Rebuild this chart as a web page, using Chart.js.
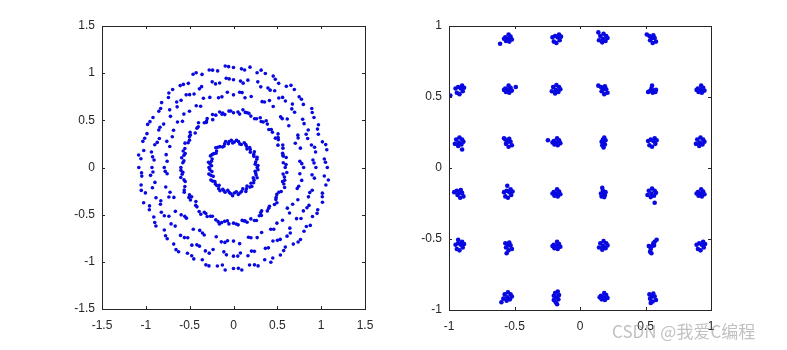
<!DOCTYPE html>
<html>
<head>
<meta charset="utf-8">
<script src="https://cdn.jsdelivr.net/npm/chart.js@4.4.1/dist/chart.umd.min.js"></script>
<style>
  body { margin: 0; background: #fff; }
  #wrap { position: relative; width: 787px; height: 350px; }
  #c1 { position: absolute; left: 0; top: 0; }
  #c2 { position: absolute; left: 393px; top: 0; }
  #wm { position: absolute; left: 612px; top: 318px; font: 17px "Noto Sans CJK SC", sans-serif; color: rgba(140,140,140,0.55); white-space: nowrap; }
</style>
</head>
<body>
<div id="wrap">
  <canvas id="c1" width="393" height="350"></canvas>
  <canvas id="c2" width="394" height="350"></canvas>
  <div id="wm">CSDN @我爱C编程</div>
</div>
<script>
// left plot: ring constellation
const ring1 = [[0.27,0],[0.248,0.035],[0.266,0.087],[0.232,0.118],[0.238,0.166],[0.191,0.191],[0.154,0.197],[0.14,0.242],
  [0.089,0.244],[0.058,0.274],[0.009,0.27],[-0.025,0.289],[-0.059,0.253],[-0.101,0.25],[-0.125,0.217],[-0.18,0.214],
  [-0.193,0.174],[-0.226,0.147],[-0.263,0.123],[-0.251,0.067],[-0.267,0.038],[-0.28,0],[-0.246,-0.043],[-0.257,-0.083],
  [-0.258,-0.132],[-0.213,-0.149],[-0.191,-0.191],[-0.169,-0.224],[-0.122,-0.23],[-0.096,-0.263],[-0.047,-0.266],[-0.01,-0.3],
  [0.032,-0.258],[0.073,-0.27],[0.106,-0.227],[0.147,-0.227],[0.187,-0.208],[0.199,-0.167],[0.234,-0.135],[0.269,-0.109],
  [0.253,-0.059],[0.279,-0.024],
  [0.279,0.02],[0.253,0.059],[0.269,0.109],[0.231,0.139],[0.192,0.161],[0.184,0.211],[0.147,0.227],[0.123,0.263],
  [0.072,0.25],[0.035,0.288],[-0.009,0.26],[-0.049,0.276],[-0.09,0.276],[-0.11,0.225],[-0.155,0.221],[-0.202,0.209],
  [-0.2,0.151],[-0.245,0.136],[-0.244,0.089],[-0.285,0.055],[-0.25,0.018],[-0.269,-0.023],[-0.281,-0.07],[-0.232,-0.094],
  [-0.24,-0.144],[-0.207,-0.174],[-0.164,-0.189],[-0.154,-0.246],[-0.11,-0.247],[-0.065,-0.242],[-0.029,-0.279],[0.009,-0.27],
  [0.055,-0.285],[0.092,-0.254],[0.141,-0.254],[0.154,-0.197],[0.209,-0.202],[0.229,-0.161],[0.225,-0.11],[0.258,-0.079],[0.247,-0.039]];

const ring2 = [[0.59,0],[0.568,0.05],[0.601,0.106],[0.56,0.15],[0.564,0.205],[0.507,0.237],[0.511,0.295],[0.508,0.356],
  [0.444,0.373],[0.403,0.403],[0.386,0.46],[0.339,0.483],[0.305,0.528],[0.241,0.516],[0.198,0.545],[0.155,0.58],[0.108,0.611],[0.051,0.588],
  [0,0.58],[-0.052,0.598],[-0.099,0.561],[-0.158,0.589],[-0.202,0.555],[-0.237,0.507],[-0.3,0.52],[-0.333,0.475],[-0.399,0.475],
  [-0.417,0.417],[-0.437,0.366],[-0.491,0.344],[-0.502,0.29],[-0.553,0.258],[-0.555,0.202],[-0.551,0.148],[-0.591,0.104],[-0.578,0.05],
  [-0.6,0],[-0.578,-0.05],[-0.601,-0.106],[-0.551,-0.148],[-0.555,-0.202],[-0.562,-0.262],[-0.502,-0.29],[-0.491,-0.344],[-0.429,-0.36],
  [-0.417,-0.417],[-0.392,-0.467],[-0.333,-0.475],[-0.3,-0.52],[-0.241,-0.516],[-0.202,-0.555],[-0.161,-0.599],[-0.101,-0.571],[-0.052,-0.598],
  [0,-0.59],[0.053,-0.608],[0.099,-0.561],[0.155,-0.58],[0.198,-0.545],[0.262,-0.562],[0.295,-0.511],[0.321,-0.459],[0.386,-0.46],
  [0.41,-0.41],[0.467,-0.392],[0.483,-0.338],[0.494,-0.285],[0.544,-0.254],[0.583,-0.212],[0.56,-0.15],[0.581,-0.102],[0.608,-0.053],
  [0.567,0.121],[0.509,0.318],[0.316,0.487],[0.135,0.584],[-0.123,0.577],[-0.307,0.492],[-0.503,0.327],[-0.565,0.131],
  [-0.586,-0.072],[-0.509,-0.318],[-0.316,-0.487],[-0.135,-0.584],[0.121,-0.567],[0.318,-0.509],[0.487,-0.316],[0.584,-0.135],
  [0.599,0.031],[0.565,0.131],[0.562,0.239],[0.478,0.311],[0.431,0.402],[0.373,0.495],[0.263,0.517],[0.175,0.574],[0.07,0.566],
  [-0.031,0.599],[-0.131,0.565],[-0.239,0.562],[-0.311,0.478],[-0.402,0.431],[-0.495,0.373],[-0.517,0.263],[-0.574,0.175],[-0.566,0.07],
  [-0.599,-0.031],[-0.565,-0.131],[-0.562,-0.239],[-0.478,-0.311],[-0.431,-0.402],[-0.373,-0.495],[-0.263,-0.517],[-0.175,-0.574],[-0.07,-0.566],
  [0.031,-0.599],[0.131,-0.565],[0.239,-0.562],[0.311,-0.478],[0.402,-0.431],[0.495,-0.373],[0.517,-0.263],[0.574,-0.175],[0.566,-0.07]];

const ring3 = [[0.8,0],[0.757,0.066],[0.763,0.205],[0.705,0.257],[0.734,0.343],[0.631,0.442],[0.613,0.514],[0.537,0.537],
  [0.453,0.647],[0.41,0.71],[0.326,0.698],[0.202,0.753],[0.131,0.739],[0.07,0.797],
  [0,0.77],[-0.07,0.797],[-0.132,0.749],[-0.27,0.743],[-0.343,0.734],[-0.375,0.65],[-0.502,0.597],[-0.566,0.566],
  [-0.582,0.489],[-0.684,0.395],[-0.698,0.326],[-0.761,0.277],[-0.768,0.136],[-0.757,0.066],
  [-0.79,0],[-0.757,-0.066],[-0.773,-0.207],[-0.724,-0.263],[-0.68,-0.317],[-0.663,-0.465],[-0.597,-0.502],[-0.537,-0.537],
  [-0.459,-0.655],[-0.385,-0.667],[-0.334,-0.716],[-0.197,-0.734],[-0.139,-0.788],[-0.068,-0.777],
  [0,-0.78],[0.07,-0.807],[0.199,-0.744],[0.27,-0.743],[0.321,-0.689],[0.459,-0.655],[0.495,-0.59],[0.559,-0.559],
  [0.614,-0.431],[0.675,-0.39],[0.734,-0.342],[0.744,-0.199],[0.778,-0.137],[0.757,-0.066],
  [0.779,0.041],[0.737,0.313],[0.556,0.518],[0.354,0.695],[0.098,0.794],[-0.171,0.74],[-0.425,0.654],[-0.639,0.482],[-0.727,0.222],
  [-0.779,-0.041],[-0.737,-0.313],[-0.556,-0.518],[-0.354,-0.695],[-0.098,-0.794],[0.171,-0.74],[0.425,-0.654],[0.639,-0.482],[0.727,-0.222]];

const ring4 = [[0.94,0],[0.906,0.079],[0.936,0.165],[0.889,0.238],[0.846,0.308],[0.852,0.398],[0.805,0.465],[0.697,0.585],
  [0.672,0.672],[0.592,0.705],[0.517,0.737],[0.47,0.814],[0.393,0.843],[0.311,0.855],[0.164,0.926],[0.08,0.916],
  [0,0.93],[-0.083,0.946],[-0.158,0.896],[-0.243,0.908],[-0.389,0.834],[-0.45,0.779],[-0.54,0.77],[-0.598,0.712],
  [-0.643,0.643],[-0.728,0.611],[-0.797,0.46],[-0.852,0.397],[-0.846,0.308],[-0.898,0.241],[-0.936,0.165],[-0.906,0.079],
  [-0.93,0],[-0.946,-0.083],[-0.896,-0.158],[-0.884,-0.321],[-0.834,-0.389],[-0.823,-0.475],[-0.737,-0.517],[-0.712,-0.598],
  [-0.604,-0.72],[-0.522,-0.745],[-0.475,-0.823],[-0.389,-0.834],[-0.321,-0.884],[-0.233,-0.869],[-0.081,-0.926],
  [0,-0.94],[0.079,-0.906],[0.165,-0.936],[0.238,-0.889],[0.398,-0.852],[0.45,-0.779],[0.533,-0.762],[0.611,-0.728],
  [0.643,-0.643],[0.77,-0.54],[0.797,-0.46],[0.861,-0.402],[0.855,-0.311],[0.898,-0.241],[0.896,-0.078],
  [0.919,0.048],[0.925,0.214],[0.829,0.352],[0.789,0.512],[0.665,0.621],[0.56,0.743],[0.418,0.82],[0.277,0.908],[0.11,0.894],
  [-0.049,0.939],[-0.205,0.886],[-0.364,0.857],[-0.501,0.772],[-0.648,0.694],[-0.719,0.542],[-0.838,0.427],[-0.87,0.266],[-0.923,0.113],
  [-0.919,-0.048],[-0.925,-0.214],[-0.829,-0.352],[-0.789,-0.512],[-0.665,-0.621],[-0.56,-0.743],[-0.418,-0.82],[-0.277,-0.908],[-0.11,-0.894],
  [0.049,-0.939],[0.205,-0.886],[0.364,-0.857],[0.501,-0.772],[0.648,-0.694],[0.719,-0.542],[0.838,-0.427],[0.87,-0.266],[0.923,-0.113]];

const ring5 = [[1.07,0],[1.036,0.09],[1.064,0.188],[1.014,0.272],[0.968,0.352],[0.969,0.453],[0.918,0.53],[0.893,0.626],
  [0.797,0.669],[0.749,0.749],[0.694,0.827],[0.603,0.86],[0.515,0.892],[0.453,0.969],[0.363,0.996],[0.269,1.005],[0.188,1.064],[0.091,1.046],
  [0,1.06],[-0.094,1.076],[-0.181,1.024],[-0.277,1.034],[-0.359,0.987],[-0.461,0.988],[-0.515,0.892],[-0.608,0.868],[-0.694,0.827],
  [-0.742,0.742],[-0.82,0.688],[-0.852,0.597],[-0.918,0.53],[-0.979,0.457],[-0.987,0.359],[-1.034,0.277],[-1.024,0.181],[-1.056,0.092],
  [-1.08,0],[-1.046,-0.091],[-1.054,-0.186],[-1.005,-0.269],[-1.025,-0.373],[-0.96,-0.448],[-0.909,-0.525],[-0.885,-0.62],[-0.789,-0.662],
  [-0.756,-0.756],[-0.682,-0.812],[-0.626,-0.893],[-0.525,-0.909],[-0.453,-0.969],[-0.356,-0.978],[-0.28,-1.043],[-0.184,-1.044],[-0.095,-1.086],
  [0,-1.07],[0.095,-1.086],[0.183,-1.034],[0.28,-1.043],[0.356,-0.978],[0.448,-0.96],[0.535,-0.927],[0.591,-0.844],[0.682,-0.812],
  [0.764,-0.764],[0.804,-0.675],[0.876,-0.614],[0.901,-0.52],[0.961,-0.448],[1.015,-0.369],[1.014,-0.272],[1.054,-0.186],[1.036,-0.09],
  [1.049,0.055],[1.052,0.243],[0.958,0.407],[0.898,0.583],[0.775,0.723],[0.656,0.871],[0.477,0.936],[0.315,1.032],[0.127,1.033],
  [-0.056,1.069],[-0.239,1.032],[-0.426,1.004],[-0.572,0.881],[-0.737,0.789],[-0.831,0.626],[-0.953,0.486],[-1.013,0.31],[-1.082,0.133],
  [-1.049,-0.055],[-1.052,-0.243],[-0.958,-0.407],[-0.898,-0.583],[-0.775,-0.723],[-0.656,-0.871],[-0.477,-0.936],[-0.315,-1.032],[-0.127,-1.033],
  [0.056,-1.069],[0.239,-1.032],[0.426,-1.004],[0.572,-0.881],[0.737,-0.789],[0.831,-0.626],[0.953,-0.486],[1.013,-0.31],[1.082,-0.133]];

// right plot: 32-point grid constellation, one array per row
const rowTop = [[-0.55,0.91],[-0.53,0.925],[-0.57,0.92],[-0.54,0.89],[-0.565,0.895],[-0.52,0.905],[-0.58,0.91],[-0.545,0.94],[-0.61,0.875],
  [-0.17,0.92],[-0.19,0.93],[-0.155,0.9],[-0.2,0.89],[-0.18,0.88],[-0.16,0.94],[-0.21,0.92],[-0.145,0.925],
  [0.175,0.91],[0.195,0.895],[0.155,0.93],[0.2,0.93],[0.17,0.885],[0.21,0.915],[0.18,0.945],[0.145,0.9],[0.14,0.955],
  [0.55,0.915],[0.535,0.9],[0.57,0.915],[0.56,0.935],[0.53,0.93],[0.555,0.88],[0.58,0.89],[0.51,0.94]];
const rowHigh = [[-0.91,0.56],[-0.93,0.57],[-0.895,0.54],[-0.94,0.53],[-0.92,0.52],[-0.9,0.58],[-0.95,0.56],[-0.885,0.565],[-0.99,0.51],
  [-0.55,0.55],[-0.53,0.565],[-0.57,0.56],[-0.54,0.53],[-0.565,0.535],[-0.52,0.545],[-0.58,0.55],[-0.545,0.58],[-0.49,0.57],
  [-0.185,0.55],[-0.165,0.535],[-0.205,0.57],[-0.16,0.57],[-0.19,0.525],[-0.15,0.555],[-0.18,0.585],[-0.215,0.54],
  [0.18,0.555],[0.165,0.54],[0.2,0.555],[0.19,0.575],[0.16,0.57],[0.185,0.52],[0.21,0.53],[0.14,0.58],
  [0.55,0.58],[0.545,0.56],[0.53,0.54],[0.56,0.545],[0.575,0.535],[0.52,0.535],[0.555,0.53],[0.58,0.55],
  [0.92,0.55],[0.94,0.565],[0.9,0.56],[0.93,0.53],[0.905,0.535],[0.95,0.545],[0.89,0.55],[0.925,0.58]];
const rowMidHigh = [[-0.925,0.18],[-0.905,0.165],[-0.945,0.2],[-0.9,0.2],[-0.93,0.155],[-0.89,0.185],[-0.92,0.215],[-0.955,0.17],[-0.9,0.13],
  [-0.55,0.185],[-0.565,0.17],[-0.53,0.185],[-0.54,0.205],[-0.57,0.2],[-0.545,0.15],[-0.52,0.16],[-0.58,0.21],
  [-0.18,0.18],[-0.16,0.195],[-0.2,0.19],[-0.17,0.16],[-0.195,0.165],[-0.15,0.175],[-0.21,0.18],[-0.175,0.21],[-0.245,0.195],
  [0.18,0.18],[0.175,0.2],[0.185,0.215],[0.17,0.16],[0.19,0.165],[0.165,0.185],[0.18,0.145],[0.195,0.195],
  [0.56,0.19],[0.54,0.2],[0.575,0.17],[0.53,0.16],[0.55,0.15],[0.57,0.21],[0.52,0.19],[0.585,0.195],
  [0.915,0.18],[0.935,0.165],[0.895,0.2],[0.94,0.2],[0.91,0.155],[0.95,0.185],[0.92,0.215],[0.885,0.17]];
const rowMidLow = [[-0.92,-0.175],[-0.935,-0.19],[-0.9,-0.175],[-0.91,-0.155],[-0.94,-0.16],[-0.915,-0.21],[-0.89,-0.2],[-0.96,-0.17],
  [-0.54,-0.17],[-0.56,-0.16],[-0.525,-0.19],[-0.57,-0.2],[-0.55,-0.21],[-0.53,-0.15],[-0.58,-0.17],[-0.515,-0.165],[-0.555,-0.125],
  [-0.18,-0.18],[-0.16,-0.165],[-0.2,-0.17],[-0.17,-0.2],[-0.195,-0.195],[-0.15,-0.185],[-0.21,-0.18],[-0.175,-0.15],
  [0.18,-0.18],[0.175,-0.16],[0.17,-0.14],[0.19,-0.19],[0.165,-0.2],[0.195,-0.17],[0.185,-0.205],[0.16,-0.18],
  [0.545,-0.18],[0.565,-0.195],[0.525,-0.16],[0.57,-0.16],[0.54,-0.205],[0.58,-0.175],[0.55,-0.145],[0.515,-0.19],[0.57,-0.245],
  [0.92,-0.18],[0.94,-0.165],[0.9,-0.17],[0.93,-0.2],[0.905,-0.195],[0.95,-0.185],[0.89,-0.18],[0.925,-0.15]];
const rowLow = [[-0.91,-0.54],[-0.93,-0.53],[-0.895,-0.56],[-0.94,-0.57],[-0.92,-0.58],[-0.9,-0.52],[-0.95,-0.54],[-0.885,-0.535],[-0.93,-0.505],
  [-0.55,-0.545],[-0.565,-0.56],[-0.53,-0.545],[-0.54,-0.525],[-0.57,-0.53],[-0.545,-0.58],[-0.52,-0.57],[-0.56,-0.6],
  [-0.18,-0.55],[-0.16,-0.535],[-0.2,-0.54],[-0.17,-0.57],[-0.195,-0.565],[-0.15,-0.555],[-0.21,-0.55],[-0.175,-0.52],
  [0.175,-0.55],[0.195,-0.565],[0.155,-0.53],[0.2,-0.53],[0.17,-0.575],[0.21,-0.545],[0.18,-0.515],[0.145,-0.56],
  [0.55,-0.55],[0.56,-0.53],[0.54,-0.57],[0.535,-0.59],[0.57,-0.52],[0.525,-0.55],[0.545,-0.6],[0.565,-0.545],[0.585,-0.505],
  [0.93,-0.54],[0.91,-0.53],[0.945,-0.56],[0.9,-0.57],[0.92,-0.58],[0.94,-0.52],[0.89,-0.54],[0.955,-0.535]];
const rowBottom = [[-0.555,-0.91],[-0.535,-0.925],[-0.575,-0.89],[-0.53,-0.89],[-0.56,-0.935],[-0.52,-0.905],[-0.55,-0.875],[-0.585,-0.92],[-0.6,-0.945],
  [-0.18,-0.91],[-0.19,-0.88],[-0.17,-0.87],[-0.2,-0.9],[-0.165,-0.925],[-0.185,-0.945],[-0.175,-0.96],[-0.16,-0.895],[-0.2,-0.93],
  [0.18,-0.91],[0.2,-0.895],[0.16,-0.9],[0.19,-0.93],[0.165,-0.925],[0.21,-0.915],[0.15,-0.91],[0.185,-0.88],
  [0.55,-0.905],[0.535,-0.92],[0.57,-0.905],[0.56,-0.885],[0.53,-0.89],[0.555,-0.94],[0.58,-0.93],[0.54,-0.95]];

// tick labels
const leftTicks = [-1.5, -1, -0.5, 0, 0.5, 1, 1.5];
const rightTicks = [-1, -0.5, 0, 0.5, 1];

const DOT = '#0808e0';
const AXIS = '#262626';

function toXY(arr) {
    return arr.map(p => ({ x: p[0], y: p[1] }));
}

// MATLAB style box with inward ticks on all four sides
const boxPlugin = {
    id: 'box',
    afterDraw(chart) {
        const { ctx, chartArea: a, scales } = chart;
        const len = 3;
        ctx.save();
        ctx.strokeStyle = AXIS;
        ctx.lineWidth = 1;
        ctx.strokeRect(Math.round(a.left) + 0.5, Math.round(a.top) + 0.5,
            Math.round(a.right - a.left), Math.round(a.bottom - a.top));
        ctx.beginPath();
        scales.x.ticks.forEach((t, i) => {
            const px = Math.round(scales.x.getPixelForTick(i)) + 0.5;
            ctx.moveTo(px, a.bottom); ctx.lineTo(px, a.bottom - len);
            ctx.moveTo(px, a.top); ctx.lineTo(px, a.top + len);
        });
        scales.y.ticks.forEach((t, i) => {
            const py = Math.round(scales.y.getPixelForTick(i)) + 0.5;
            ctx.moveTo(a.left, py); ctx.lineTo(a.left + len, py);
            ctx.moveTo(a.right, py); ctx.lineTo(a.right - len, py);
        });
        ctx.stroke();
        ctx.restore();
    }
};

function makeScale(min, max, tickList, isX) {
    return {
        type: 'linear',
        min: min,
        max: max,
        grid: { display: false, drawTicks: false },
        border: { display: false },
        afterBuildTicks: s => { s.ticks = tickList.map(v => ({ value: v })); },
        afterFit: s => { if (isX) s.height = 30; else s.width = 40; },
        ticks: {
            color: AXIS,
            font: { family: 'Arial, "Liberation Sans", sans-serif', size: 12 },
            padding: isX ? 9 : 7,
            maxRotation: 0,
            autoSkip: false,
            callback: v => String(v)
        }
    };
}

function makeChart(id, datasets, min, max, tickList, padding, radius) {
    return new Chart(document.getElementById(id).getContext('2d'), {
        type: 'scatter',
        data: {
            datasets: datasets.map(d => ({
                data: toXY(d),
                backgroundColor: DOT,
                borderWidth: 0,
                pointRadius: radius,
                pointHoverRadius: radius
            }))
        },
        options: {
            responsive: false,
            animation: false,
            layout: { padding: padding },
            plugins: { legend: { display: false }, tooltip: { enabled: false } },
            scales: {
                x: makeScale(min, max, tickList, true),
                y: makeScale(min, max, tickList, false)
            }
        },
        plugins: [boxPlugin]
    });
}

makeChart('c1', [ring1, ring2, ring3, ring4, ring5], -1.5, 1.5, leftTicks,
    { left: 62, right: 28, top: 26, bottom: 11 }, 1.8);
makeChart('c2', [rowTop, rowHigh, rowMidHigh, rowMidLow, rowLow, rowBottom], -1, 1, rightTicks,
    { left: 16, right: 76, top: 26, bottom: 10 }, 2.3);
</script>
</body>
</html>
